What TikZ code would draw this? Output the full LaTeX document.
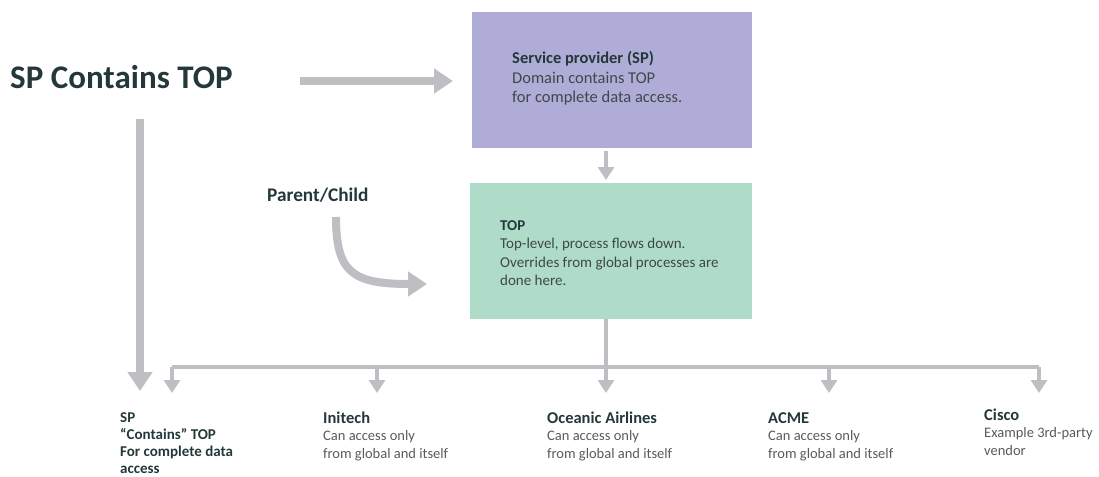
\documentclass[tikz,border=0pt]{standalone}
\usepackage{fontspec}
\setmainfont{Carlito}
\usetikzlibrary{arrows.meta}
\definecolor{arrgray}{RGB}{190,190,195}
\definecolor{spfill}{RGB}{176,172,216}
\definecolor{topfill}{RGB}{174,220,200}
\definecolor{darktxt}{RGB}{36,56,58}
\definecolor{boxtxt}{RGB}{62,72,74}
\definecolor{bodytxt}{RGB}{88,90,92}
\tikzset{
  bigarr/.style={draw=arrgray, line width=8pt, -{Triangle[length=19pt,width=24pt]}},
  smallarr/.style={draw=arrgray, line width=3.5pt, -{Triangle[length=13pt,width=16pt]}},
  busline/.style={draw=arrgray, line width=3.5pt},
  panel/.style={draw=none, inner sep=0pt, anchor=north west},
  txt/.style={inner sep=0pt, anchor=base west, align=left},
  labtext/.style={txt, text=bodytxt, font=\fontsize{14.5}{17.5}\selectfont},
}
\begin{document}
\begin{tikzpicture}[x=1pt,y=-1pt]
\useasboundingbox (0,0) rectangle (1099,476);

% title
\node[txt, text=darktxt, font=\bfseries\fontsize{33}{36}\selectfont] (title) at (10,89) {SP Contains TOP};

% boxes
\node[panel, fill=spfill, minimum width=280pt, minimum height=136pt] (sp) at (472,12) {};
\node[panel, fill=topfill, minimum width=282pt, minimum height=136pt] (top) at (470,183) {};

% (anchor = baseline of the last line)
\node[txt, text=boxtxt, font=\fontsize{16.5}{19.3}\selectfont] (sptext) at (512,102.5) {\textbf{\textcolor{darktxt}{Service provider (SP)}}\\Domain contains TOP\\for complete data access.};
\node[txt, text=boxtxt, font=\fontsize{15}{18.5}\selectfont] (toptext) at (500,285.5) {\textbf{\textcolor{darktxt}{TOP}}\\Top-level, process flows down.\\Overrides from global processes are\\done here.};

% parent/child
\node[txt, text=darktxt, font=\bfseries\fontsize{19.3}{21}\selectfont] (pc) at (267,201) {Parent/Child};

% arrows
\coordinate (ha) at (300,81);
\coordinate (hb) at (453,81);
\draw[bigarr] (ha) -- (hb);

\coordinate (va) at (140,119);
\coordinate (vb) at (140,391);
\draw[bigarr] (va) -- (vb);

\coordinate (ca) at (336,217);
\coordinate (cb) at (427,284);
\draw[bigarr] (ca) .. controls (336,272) and (352,284) .. (cb);

\coordinate (s1) at (606,151);
\coordinate (s2) at (606,180);
\draw[smallarr] (s1) -- (s2);

% bus
\coordinate (b1) at (172,367);
\coordinate (b2) at (377,367);
\coordinate (b3) at (606,367);
\coordinate (b4) at (829,367);
\coordinate (b5) at (1039,367);
\coordinate (tb) at (606,319);
\draw[busline] (b1) -- (b5);
\draw[busline] (tb) -- (b3);

\foreach \n/\x in {1/172,2/377,3/606,4/829,5/1039}{
  \coordinate (t\n) at (\x,393);
  \draw[smallarr] (b\n) -- (t\n);
}

% bottom labels (anchor = baseline of the last line)
\node[labtext, text=darktxt, font=\bfseries\fontsize{15}{17}\selectfont] (lsp) at (120,473) {SP\\``Contains'' TOP\\For complete data\\access};
\node[labtext] (lini) at (323,458) {\textbf{\textcolor{darktxt}{\fontsize{16.5}{17.5}\selectfont Initech}}\\Can access only\\from global and itself};
\node[labtext] (loce) at (547,458) {\textbf{\textcolor{darktxt}{\fontsize{16.5}{17.5}\selectfont Oceanic Airlines}}\\Can access only\\from global and itself};
\node[labtext] (lacm) at (768,458) {\textbf{\textcolor{darktxt}{\fontsize{16.5}{17.5}\selectfont ACME}}\\Can access only\\from global and itself};
\node[labtext] (lcis) at (984,455) {\textbf{\textcolor{darktxt}{\fontsize{16.5}{17.5}\selectfont Cisco}}\\Example 3rd-party\\vendor};
\end{tikzpicture}
\end{document}
